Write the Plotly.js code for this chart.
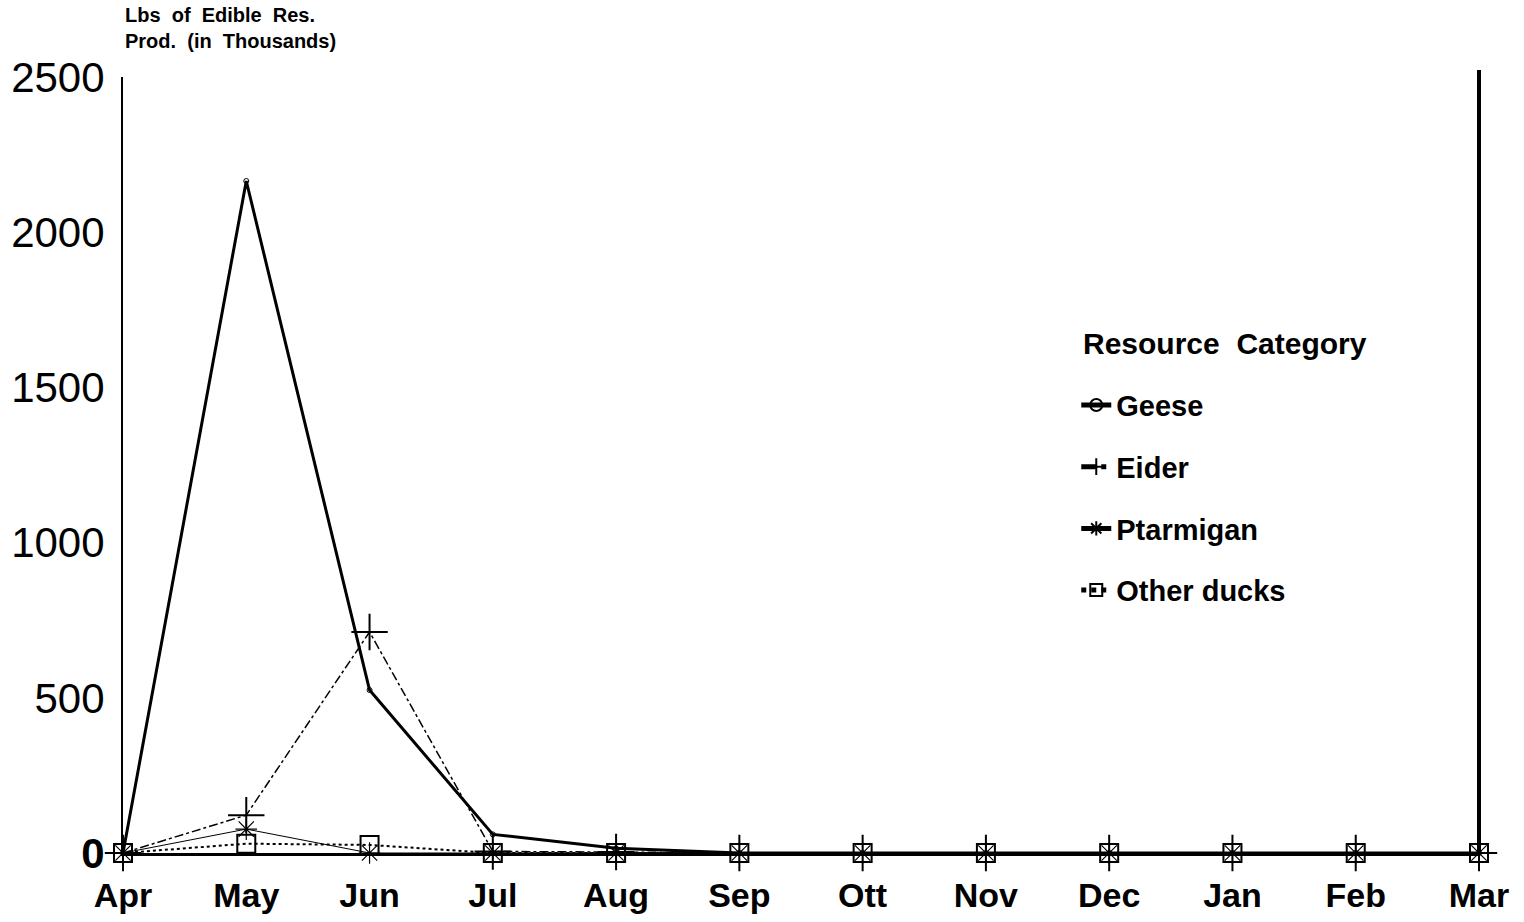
<!DOCTYPE html>
<html>
<head>
<meta charset="utf-8">
<script src="https://cdn.plot.ly/plotly-3.0.1.min.js"></script>
<style>html,body{margin:0;padding:0;background:#fff;}#chart{width:1524px;height:922px;}</style>
</head>
<body>
<div id="chart"></div>
<script>
// Data
const months = ['Apr','May','Jun','Jul','Aug','Sep','Ott','Nov','Dec','Jan','Feb','Mar'];
const geese = [0, 2165, 525, 60, 15, 0, 0, 0, 0, 0, 0, 0];
const eider = [0, 122, 712, 5, 3, 0, 0, 0, 0, 0, 0, 0];
const ptarmigan = [0, 77, 0, 0, 0, 0, 0, 0, 0, 0, 0, 0];
const otherDucks = [0, 30, 26, 0, 0, 0, 0, 0, 0, 0, 0, 0];
const seriesNames = ['Geese', 'Eider', 'Ptarmigan', 'Other ducks'];
const legendTitle = 'Resource  Category';
const yTickVals = [0, 500, 1000, 1500, 2000, 2500];
const yTickText = ['<b>0</b>', '500', '1000', '1500', '2000', '2500'];

const xIdx = months.map((m, i) => i);
const FONT = 'Liberation Sans, Arial, sans-serif';

const traces = [
  {
    name: seriesNames[0], x: xIdx, y: geese, mode: 'lines+markers', legendgroup: 'g1',
    line: {color: '#000', width: 3}, marker: {symbol: 'circle-open', size: 5, color: '#000', line: {width: 1}},
    cliponaxis: false
  },
  {
    name: seriesNames[1], x: xIdx, y: eider, mode: 'lines+markers', legendgroup: 'g2',
    line: {color: '#000', width: 1.5, dash: 'dashdot'}, marker: {symbol: 'cross-thin-open', size: 26, color: '#000', line: {width: 2, color: '#000'}},
    cliponaxis: false
  },
  {
    name: seriesNames[2], x: xIdx, y: ptarmigan, mode: 'lines+markers', legendgroup: 'g3',
    line: {color: '#000', width: 1}, marker: {symbol: 'asterisk-open', size: 18, color: '#000', line: {width: 1.2, color: '#000'}},
    cliponaxis: false
  },
  {
    name: seriesNames[3], x: xIdx, y: otherDucks, mode: 'lines+markers', legendgroup: 'g4',
    line: {color: '#000', width: 2, dash: 'dot'}, marker: {symbol: 'square-open', size: 18, color: '#000', line: {width: 2, color: '#000'}},
    cliponaxis: false
  }
];

const layout = {
  width: 1524, height: 922,
  paper_bgcolor: '#fff', plot_bgcolor: '#fff',
  margin: {l: 123, r: 45, t: 77, b: 69},
  font: {family: FONT, color: '#000'},
  xaxis: {
    range: [0, 11], tickvals: xIdx, ticktext: months.map(m => '<b>' + m + '</b>'),
    showgrid: false, zeroline: false, showline: true, linecolor: '#000', linewidth: 3,
    ticks: '', ticklabelstandoff: 10,
    tickfont: {size: 34, family: FONT, color: '#000'}
  },
  yaxis: {
    range: [0, 2500], tickvals: yTickVals, ticktext: yTickText,
    showgrid: false, zeroline: false, showline: true, linecolor: '#000', linewidth: 2,
    ticks: '', ticklabelstandoff: 8,
    tickfont: {size: 42, family: FONT, color: '#000'}
  },
  showlegend: true,
  legend: {
    x: 0.703, xanchor: 'left', y: 0.610, yanchor: 'top',
    bgcolor: 'rgba(0,0,0,0)', borderwidth: 0,
    font: {size: 29, family: FONT, weight: 'bold'},
    tracegroupgap: 21, itemsizing: 'constant'
  },
  shapes: [
    {type: 'line', xref: 'paper', yref: 'paper', x0: 1, x1: 1, y0: 0, y1: 1.009, line: {color: '#000', width: 4}}
  ],
  annotations: [
    {
      xref: 'paper', yref: 'paper', x: 0, y: 1.030, xanchor: 'left', yanchor: 'bottom', align: 'left',
      showarrow: false,
      text: '<b>Lbs  of  Edible  Res.<br>Prod.  (in  Thousands)</b>',
      font: {size: 20, family: FONT, color: '#000'}
    },
    {
      xref: 'paper', yref: 'paper', x: 0.7065, y: 0.657, xanchor: 'left', yanchor: 'middle',
      showarrow: false,
      text: '<b>' + legendTitle + '</b>',
      font: {size: 30, family: FONT, color: '#000'}
    }
  ]
};

Plotly.newPlot('chart', traces, layout, {displayModeBar: false, staticPlot: true});
</script>
</body>
</html>
